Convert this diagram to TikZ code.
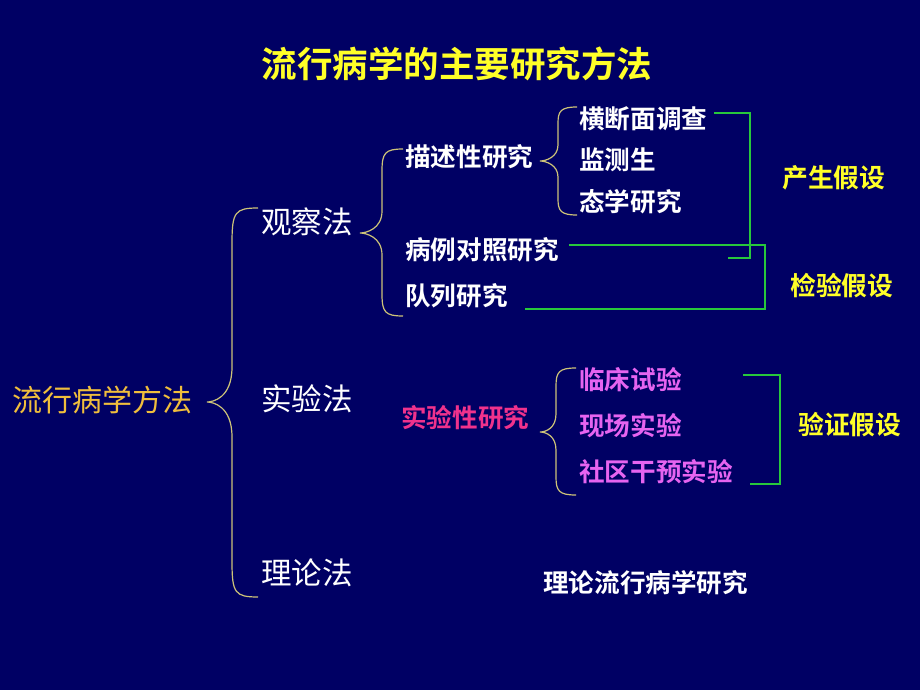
\documentclass[tikz,border=0pt]{standalone}
\usepackage{fontspec}
\newfontfamily\cjk{Noto Sans CJK SC}
\newfontfamily\cjkb{Noto Sans CJK SC Bold}
\definecolor{bg}{RGB}{0,0,100}
\definecolor{brc}{RGB}{205,195,120}
\definecolor{grn}{RGB}{40,200,60}
\definecolor{ylw}{RGB}{255,255,40}
\definecolor{gold}{RGB}{240,190,60}
\definecolor{pnk}{RGB}{240,50,140}
\definecolor{vio}{RGB}{230,100,240}
\newcommand\mybrc[7]{% xt xs xe ytop ytip ybot r
  \draw[brc,line width=1.2pt] (#3,#4) .. controls (#2+3,#4) and (#2,#4+4) .. (#2,#4+#7)
    -- (#2,#5-#7) .. controls (#2,#5-4) and (#1+6,#5) .. (#1,#5)
    .. controls (#1+6,#5) and (#2,#5+4) .. (#2,#5+#7)
    -- (#2,#6-#7) .. controls (#2,#6-4) and (#2+3,#6) .. (#3,#6);}
\begin{document}
\begin{tikzpicture}[x=1pt,y=-1pt,
  lbl/.style={anchor=west,inner sep=0pt,text=white,font=\cjk\fontsize{30.5}{31}\selectfont},
  sub/.style={anchor=west,inner sep=0pt,text=white,font=\cjkb\fontsize{25.6}{26}\selectfont},
  hyp/.style={anchor=west,inner sep=0pt,text=ylw,font=\cjkb\fontsize{25.8}{26}\selectfont},
  gl/.style={grn,line width=1.2pt}]
\fill[bg] (0,0) rectangle (920,690);
\useasboundingbox (0,0) rectangle (920,690);
\node[inner sep=0pt,text=ylw,font=\cjkb\fontsize{35.5}{36}\selectfont] (title) at (457,64) {流行病学的主要研究方法};
\node[anchor=west,inner sep=0pt,text=gold,font=\cjk\fontsize{30}{30}\selectfont] (root) at (12,400) {流行病学方法};
\node[lbl] (obs) at (261,222) {观察法};
\node[lbl] (exp) at (261,399) {实验法};
\node[lbl] (the) at (261,573) {理论法};
\mybrc{207}{232}{258}{208}{402}{597}{35}
\node[sub] (desc) at (405,157) {描述性研究};
\node[sub] (cc) at (405,250) {病例对照研究};
\node[sub] (coh) at (405,296) {队列研究};
\mybrc{360}{382}{403}{149}{233}{316}{22}
\node[sub] (cs) at (579,119) {横断面调查};
\node[sub] (sv) at (579,160) {监测生};
\node[sub] (ec) at (579,202) {态学研究};
\mybrc{540}{558}{577}{107}{161}{215}{16}
\coordinate (g1a) at (714,113);
\coordinate (g1b) at (728,258);
\draw[gl] (g1a) -- (750,113) -- (750,258) -- (g1b);
\coordinate (g2a) at (569,245);
\coordinate (g2b) at (525,309);
\draw[gl] (g2a) -- (765,245) -- (765,309) -- (g2b);
\node[hyp] (h1) at (782,178) {产生假设};
\node[hyp] (h2) at (790,286) {检验假设};
\node[sub,text=pnk] (es) at (401,418) {实验性研究};
\mybrc{540}{556}{576}{368}{432}{495}{18}
\node[sub,text=vio] (ct) at (579,380) {临床试验};
\node[sub,text=vio] (ft) at (579,426) {现场实验};
\node[sub,text=vio] (ci) at (579,472) {社区干预实验};
\coordinate (g3a) at (743,375);
\coordinate (g3b) at (750,484);
\draw[gl] (g3a) -- (780,375) -- (780,484) -- (g3b);
\node[hyp] (h3) at (798,425) {验证假设};
\node[sub] (te) at (543,583) {理论流行病学研究};
\end{tikzpicture}
\end{document}
